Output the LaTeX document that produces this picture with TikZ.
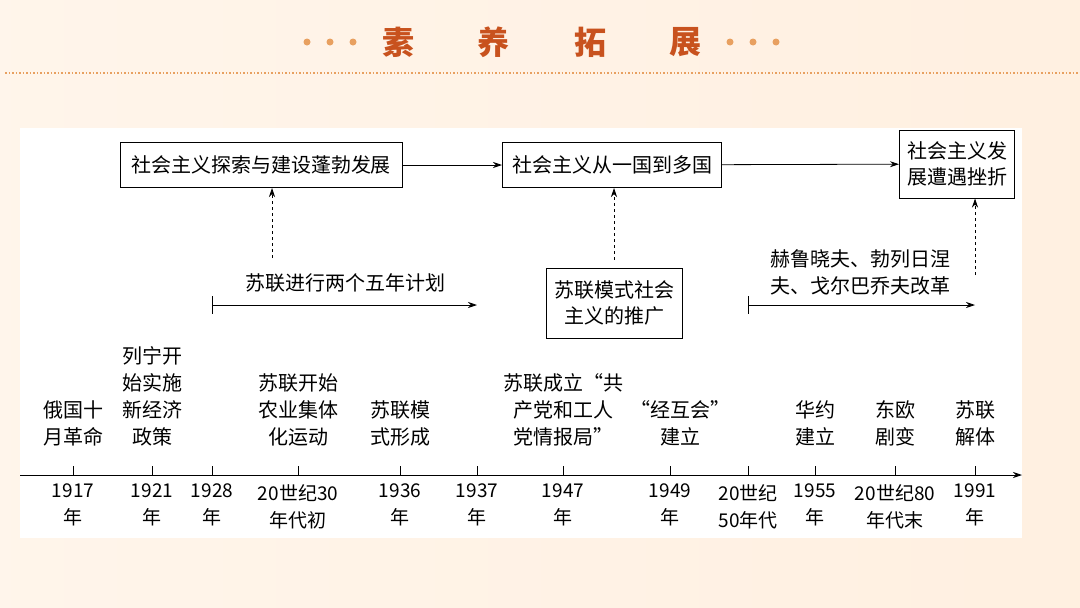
\documentclass[tikz,border=0pt]{standalone}
\usepackage{fontspec}
\setmainfont{Liberation Sans}
\newfontfamily\cjk{Noto Sans CJK SC}
\usetikzlibrary{arrows.meta}
\definecolor{hdr}{HTML}{C8521E}
\definecolor{dotc}{HTML}{E8A060}
\begin{document}
\begin{tikzpicture}[x=1pt,y=-1pt,
  txt/.style={font=\cjk\fontsize{20}{27}\selectfont,align=center,inner sep=0pt},
  yr/.style={font=\fontsize{19}{27}\selectfont\cjk,align=center,inner sep=0pt,anchor=north},
  bx/.style={draw,line width=1pt,font=\cjk\fontsize{20}{26}\selectfont,align=center,inner sep=4pt},
  arr/.style={-{Stealth[length=9pt,width=6pt]},line width=0.8pt},
  darr/.style={arr,dashed}]
\useasboundingbox (0,0) rectangle (1080,608);
\shade[left color=orange!8,right color=orange!12] (0,0) rectangle (1080,608);
\fill[white] (20,128) rectangle (1022,538);
\foreach \x/\c [count=\i] in {398/素,493/养,590/拓,685/展}
  \node[font=\cjk\bfseries\fontsize{32}{34}\selectfont,text=hdr] (t\i) at (\x,42) {\c};
\foreach \x in {307,330,353,730,753,776} \fill[dotc] (\x,42) circle (3.5);
\draw[dotc,line width=1.5pt,dotted] (5,73) -- (1080,73);
% axis
\coordinate (a0) at (20,475); \coordinate (a1) at (1022,475);
\draw[arr] (a0) -- (a1);
\foreach \x/\t [count=\i] in {73/{1917\\年},152/{1921\\年},212/{1928\\年},298/{20世纪30\\年代初},400/{1936\\年},477/{1937\\年},563/{1947\\年},670/{1949\\年},748/{20世纪\\50年代},815/{1955\\年},895/{20世纪80\\年代末},975/{1991\\年}}{
  \draw[line width=1pt] (\x,475) -- (\x,466);
  \node[yr] (y\i) at (\x,484) {\t};}
% events
\node[txt,anchor=south] (e1) at (73,446) {俄国十\\月革命};
\node[txt,anchor=south] (e2) at (152,446) {列宁开\\始实施\\新经济\\政策};
\node[txt,anchor=south] (e3) at (298,446) {苏联开始\\农业集体\\化运动};
\node[txt,anchor=south] (e4) at (400,446) {苏联模\\式形成};
\node[txt,anchor=south] (e5) at (563,446) {苏联成立“共\\产党和工人\\党情报局”};
\node[txt,anchor=south] (e6) at (680,446) {“经互会”\\建立};
\node[txt,anchor=south] (e7) at (815,446) {华约\\建立};
\node[txt,anchor=south] (e8) at (895,446) {东欧\\剧变};
\node[txt,anchor=south] (e9) at (975,446) {苏联\\解体};
% boxes
\node[bx,minimum width=282,minimum height=45] (b1) at (261,165) {社会主义探索与建设蓬勃发展};
\node[bx,minimum width=219,minimum height=45] (b2) at (612,165) {社会主义从一国到多国};
\node[bx,minimum width=115,minimum height=68] (b3) at (957,164) {社会主义发\\展遭遇挫折};
\draw[arr] (b1) -- (b2);
\draw[arr] (b2) -- (b3);
\node[bx,minimum width=136,minimum height=70] (b4) at (614,303) {苏联模式社会\\主义的推广};
\coordinate (d1) at (272,258); \coordinate (d3) at (975,275);
\draw[darr] (d1) -- (b1.south -| d1);
\draw[darr] (b4.north) ++(0,-8) coordinate (d2) (d2) -- (b2.south -| d2);
\draw[darr] (d3) -- (b3.south -| d3);
\node[txt] (p1) at (345,283) {苏联进行两个五年计划};
\coordinate (r1a) at (212,305); \coordinate (r1b) at (477,305);
\draw[arr] (r1a) -- (r1b); \draw[line width=0.8pt] (212,296) -- (212,314);
\node[txt] (p2) at (860,272) {赫鲁晓夫、勃列日涅\\夫、戈尔巴乔夫改革};
\coordinate (r2a) at (748,305); \coordinate (r2b) at (975,305);
\draw[arr] (r2a) -- (r2b); \draw[line width=0.8pt] (748,296) -- (748,314);
\end{tikzpicture}
\end{document}
